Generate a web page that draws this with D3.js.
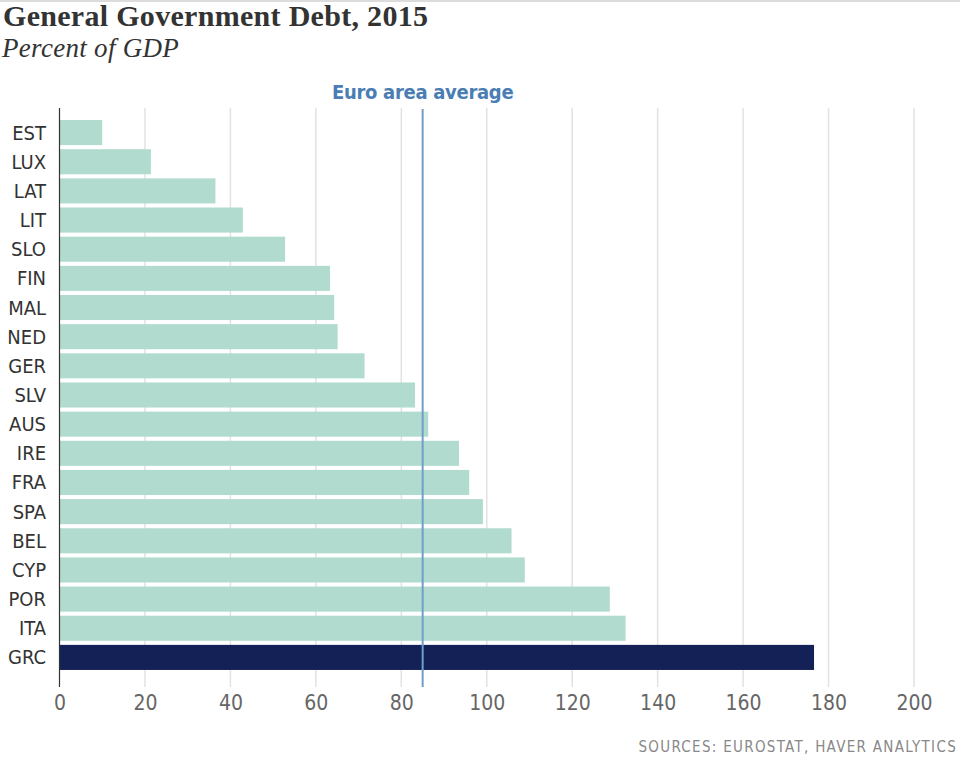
<!DOCTYPE html>
<html>
<head>
<meta charset="utf-8">
<script src="https://cdn.jsdelivr.net/npm/d3@7"></script>
<style>
  body { margin: 0; background: #fff; }
  .cond { font-family: "Liberation Sans Narrow", "DejaVu Sans Condensed", "Roboto", sans-serif; }
</style>
</head>
<body>
<svg id="chart" width="960" height="765"></svg>
<script>
// values, percent of GDP
const countries = ["EST", "LUX", "LAT", "LIT", "SLO", "FIN", "MAL", "NED", "GER", "SLV",
                   "AUS", "IRE", "FRA", "SPA", "BEL", "CYP", "POR", "ITA", "GRC"];
const debt = [10.0, 21.4, 36.5, 42.9, 52.8, 63.3, 64.3, 65.1, 71.4, 83.2,
              86.3, 93.5, 95.9, 99.1, 105.8, 108.9, 128.8, 132.5, 176.6];
const highlight = "GRC";
const euroAverage = 85.0;
const xTicks = [0, 20, 40, 60, 80, 100, 120, 140, 160, 180, 200];

const data = countries.map((c, i) => ({ c: c, v: debt[i] }));

const svg = d3.select("#chart");
const plotTop = 108, plotBottom = 687;

const x = d3.scaleLinear().domain([0, 200]).range([59.5, 914]);
const y = d3.scaleBand().domain(countries).range([118, 672])
  .paddingInner(0.14).paddingOuter(0.07);

// thin rule at the very top
svg.append("line")
  .attr("x1", 0).attr("x2", 960).attr("y1", 1).attr("y2", 1)
  .attr("stroke", "#dcdcdc").attr("stroke-width", 2);

// title
svg.append("text")
  .attr("x", 3).attr("y", 26)
  .style("font-family", "'Liberation Serif', 'DejaVu Serif', serif")
  .style("font-weight", "bold")
  .style("font-size", "30px")
  .style("letter-spacing", "0.3px")
  .attr("fill", "#333")
  .text("General Government Debt, 2015");

svg.append("text")
  .attr("x", 2).attr("y", 57)
  .style("font-family", "'Liberation Serif', 'DejaVu Serif', serif")
  .style("font-style", "italic")
  .style("font-size", "27px")
  .style("letter-spacing", "0.3px")
  .attr("fill", "#333")
  .text("Percent of GDP");

// gridlines
svg.append("g")
  .selectAll("line")
  .data(xTicks.slice(1))
  .enter().append("line")
  .attr("x1", d => x(d)).attr("x2", d => x(d))
  .attr("y1", plotTop).attr("y2", plotBottom)
  .attr("stroke", "#e2e2e2").attr("stroke-width", 1.5);

// bars
svg.append("g")
  .selectAll("rect")
  .data(data)
  .enter().append("rect")
  .attr("x", x(0))
  .attr("y", d => y(d.c))
  .attr("width", d => x(d.v) - x(0))
  .attr("height", y.bandwidth())
  .attr("fill", d => d.c === highlight ? "#132157" : "#b1dbcf");

// y axis line + country labels
svg.append("line")
  .attr("x1", x(0)).attr("x2", x(0))
  .attr("y1", plotTop).attr("y2", plotBottom)
  .attr("stroke", "#333").attr("stroke-width", 1.2);

svg.append("g")
  .selectAll("text")
  .data(countries)
  .enter().append("text")
  .attr("class", "cond")
  .attr("x", 46)
  .attr("y", d => y(d) + y.bandwidth() / 2)
  .attr("dy", "0.35em")
  .attr("text-anchor", "end")
  .style("font-size", "20px")
  .attr("fill", "#333")
  .text(d => d);

// x axis tick labels
const xAxis = svg.append("g")
  .attr("transform", "translate(0," + plotBottom + ")")
  .call(d3.axisBottom(x).tickValues(xTicks).tickSize(0).tickPadding(8));
xAxis.select(".domain").remove();
xAxis.selectAll("text")
  .attr("class", "cond")
  .style("font-size", "21px")
  .style("font-weight", "300")
  .attr("fill", "#666");

// euro area average
svg.append("line")
  .attr("x1", x(euroAverage)).attr("x2", x(euroAverage))
  .attr("y1", 109).attr("y2", plotBottom)
  .attr("stroke", "#6f9ecb").attr("stroke-width", 2);

svg.append("text")
  .attr("class", "cond")
  .attr("x", x(euroAverage)).attr("y", 99)
  .attr("text-anchor", "middle")
  .style("font-size", "20px")
  .style("font-weight", "bold")
  .style("letter-spacing", "-0.3px")
  .attr("fill", "#4a7db3")
  .text("Euro area average");

// source
svg.append("text")
  .attr("class", "cond")
  .attr("x", 957).attr("y", 752)
  .attr("text-anchor", "end")
  .style("font-size", "15px")
  .style("letter-spacing", "1.3px")
  .attr("fill", "#888")
  .text("SOURCES: EUROSTAT, HAVER ANALYTICS");
</script>
</body>
</html>
